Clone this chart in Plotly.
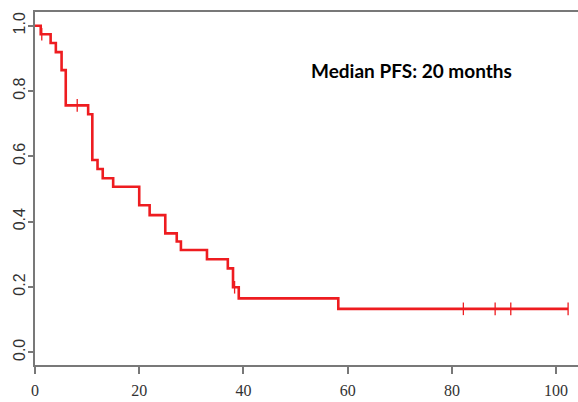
import plotly.graph_objects as go

# Kaplan-Meier progression-free survival estimate (step function)
event_times = [0, 1.1, 3.0, 4.0, 5.1, 5.9, 10.2, 11.0, 12.0, 13.0, 15.0, 20.0, 22.0,
               25.0, 27.2, 28.0, 33.0, 37.0, 38.0, 39.1, 58.2]
survival = [1.0, 0.974, 0.947, 0.919, 0.864, 0.756, 0.729, 0.589, 0.561, 0.533, 0.507,
            0.450, 0.420, 0.364, 0.339, 0.313, 0.285, 0.257, 0.199, 0.165, 0.133]
last_followup = 102.3

# Censored observations
censor_times = [1.3, 8.1, 38.3, 82.2, 88.3, 91.3, 102.3]
censor_surv = [0.974, 0.756, 0.199, 0.133, 0.133, 0.133, 0.133]

x_ticks = [0, 20, 40, 60, 80, 100]
y_ticks = [0.0, 0.2, 0.4, 0.6, 0.8, 1.0]
y_tick_labels = ["0.0", "0.2", "0.4", "0.6", "0.8", "1.0"]

annotation_text = "Median PFS: 20 months"

RED = "rgb(238,28,32)"
AXIS = "rgb(120,120,120)"

fig = go.Figure()

fig.add_trace(go.Scatter(
    x=event_times + [last_followup],
    y=survival + [survival[-1]],
    mode="lines",
    line=dict(color=RED, width=2.6, shape="hv"),
    hoverinfo="skip",
    showlegend=False,
))

fig.add_trace(go.Scatter(
    x=censor_times,
    y=censor_surv,
    mode="markers",
    marker=dict(symbol="line-ns-open", size=9, color=RED, line=dict(color=RED, width=1.3)),
    hoverinfo="skip",
    showlegend=False,
))

fig.add_annotation(
    x=72.3, y=0.864, xref="x", yref="y",
    text="<b>" + annotation_text + "</b>",
    showarrow=False,
    xanchor="center", yanchor="middle",
    font=dict(family="Lato", size=19, color="black"),
)

fig.update_layout(
    width=578, height=402,
    margin=dict(l=35, r=0, t=12, b=37),
    paper_bgcolor="white",
    plot_bgcolor="white",
    showlegend=False,
)

fig.update_xaxes(
    range=[0, 104.2],
    tickvals=x_ticks,
    ticktext=[str(v) for v in x_ticks],
    showgrid=False, zeroline=False,
    showline=True, linecolor=AXIS, linewidth=2, mirror=True,
    ticks="outside", ticklen=7, tickwidth=1.5, tickcolor=AXIS,
    ticklabelstandoff=3,
    tickfont=dict(family="Liberation Sans Narrow", size=16, color="rgb(50,50,50)"),
)

fig.update_yaxes(
    range=[-0.039, 1.042],
    tickvals=y_ticks,
    ticktext=y_tick_labels,
    tickangle=-90,
    showgrid=False, zeroline=False,
    showline=True, linecolor=AXIS, linewidth=2,
    ticks="outside", ticklen=5, tickwidth=1.5, tickcolor=AXIS,
    ticklabelstandoff=-3,
    tickfont=dict(family="Liberation Sans", size=16, color="rgb(50,50,50)"),
)

fig.write_html("out.html")
